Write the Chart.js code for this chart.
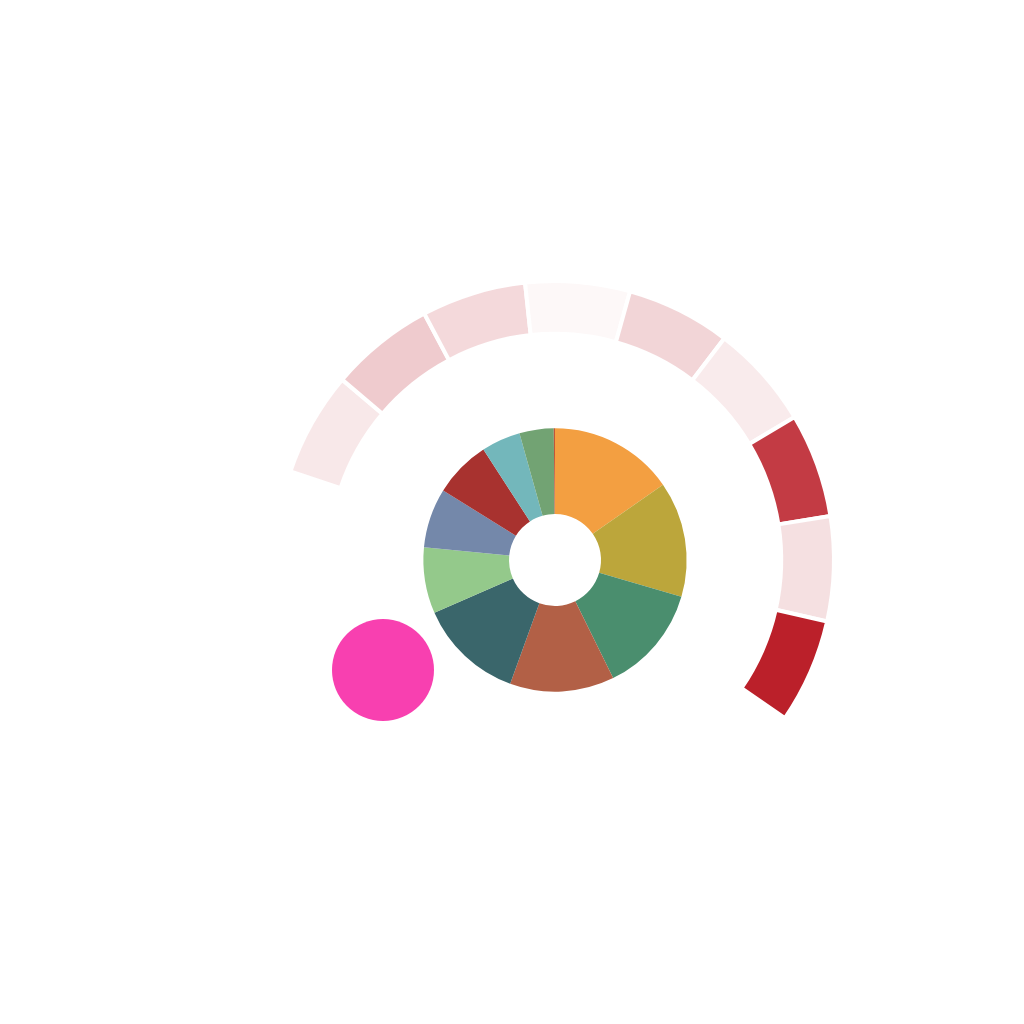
<!DOCTYPE html>
<html>
<head>
<meta charset="utf-8">
<script src="https://cdn.jsdelivr.net/npm/chart.js@4"></script>
<style>
  body { margin: 0; background: #fff; }
  #wrap { position: relative; width: 1024px; height: 1024px; }
  #wrap canvas { position: absolute; left: 0; top: 0; }
</style>
</head>
<body>
<div id="wrap">
  <canvas id="ringChart" width="1024" height="1024"></canvas>
  <canvas id="dotChart" width="1024" height="1024"></canvas>
</div>
<script>
// inner doughnut
const sliceLabels = ['A', 'B', 'C', 'D', 'E', 'F', 'G', 'H', 'I', 'J', 'K'];
const sliceValues = [15.3, 14.2, 13.2, 12.8, 12.9, 8.1, 7.3, 7.0, 4.8, 4.2, 0.15];
const sliceColors = ['#f39f41', '#bca63b', '#4a8e6e', '#b26046', '#3a666b', '#94c98b',
  '#7488aa', '#a8322f', '#73b7bb', '#72a373', '#c0563a'];

// outer ring (equal segments, shaded by intensity)
const ringValues = [1, 1, 1, 1, 1, 1, 1, 1, 1];
const ringIntensity = [0.1, 0.23, 0.17, 0.03, 0.19, 0.09, 0.88, 0.14, 1.0];

// the lone bubble
const bubblePoints = [{ x: 383, y: 670, r: 51 }];

const ringColors = ringIntensity.map(a => `rgba(187, 32, 42, ${a})`);

const ctx = document.getElementById('ringChart').getContext('2d');
const ringChart = new Chart(ctx, {
  type: 'doughnut',
  data: {
    labels: sliceLabels,
    datasets: [
      {
        data: ringValues,
        backgroundColor: ringColors,
        borderColor: '#ffffff',
        borderWidth: 4,
        hoverBorderWidth: 4,
        rotation: -71.5,
        circumference: 196,
        weight: 53
      },
      {
        // empty space between the ring and the inner doughnut
        data: [1],
        backgroundColor: 'rgba(0,0,0,0)',
        borderWidth: 0,
        weight: 95
      },
      {
        data: sliceValues,
        backgroundColor: sliceColors,
        borderWidth: 0,
        weight: 86
      }
    ]
  },
  options: {
    responsive: false,
    animation: false,
    devicePixelRatio: 1,
    cutout: 46,
    layout: { padding: { left: 274, right: 188, top: 279, bottom: 183 } },
    plugins: {
      legend: { display: false },
      tooltip: { enabled: false }
    }
  }
});

const dotCtx = document.getElementById('dotChart').getContext('2d');
const dotChart = new Chart(dotCtx, {
  type: 'bubble',
  data: {
    datasets: [{
      data: bubblePoints,
      backgroundColor: '#f840b0',
      borderWidth: 0
    }]
  },
  options: {
    responsive: false,
    animation: false,
    devicePixelRatio: 1,
    layout: { padding: 0, autoPadding: false },
    scales: {
      x: { display: false, min: 0, max: 1024 },
      y: { display: false, min: 0, max: 1024, reverse: true }
    },
    plugins: {
      legend: { display: false },
      tooltip: { enabled: false }
    }
  }
});
</script>
</body>
</html>
